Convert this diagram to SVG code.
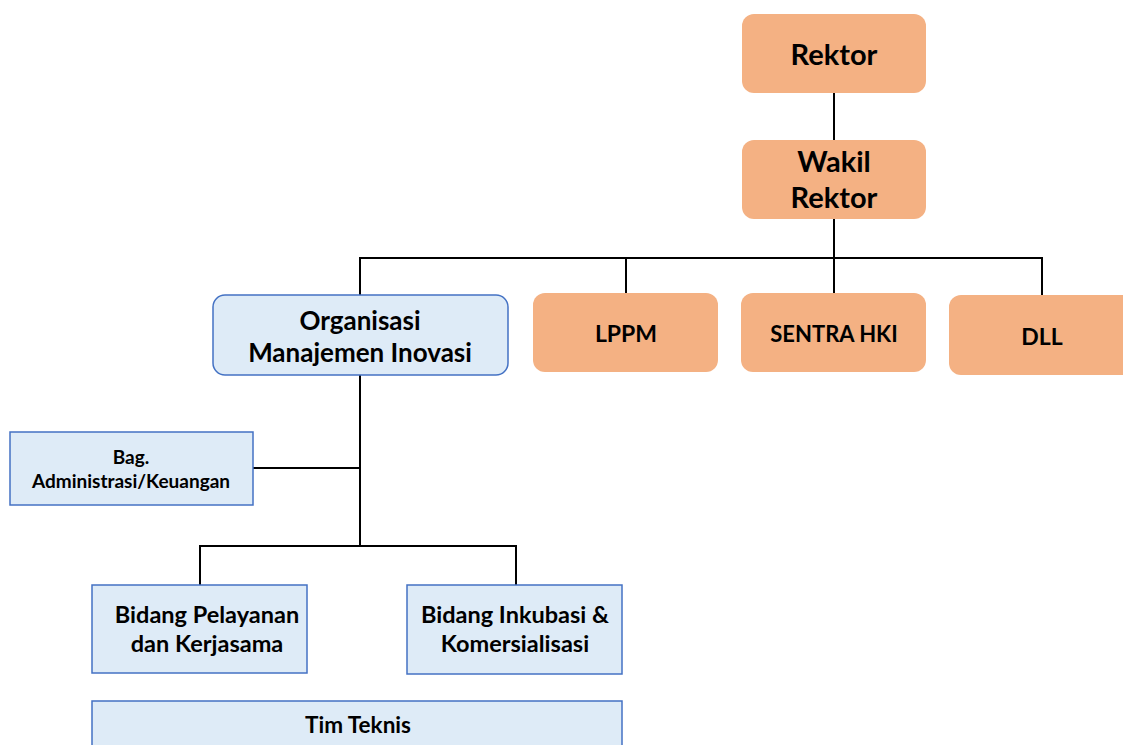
<svg xmlns="http://www.w3.org/2000/svg" width="1123" height="745" viewBox="0 0 1123 745">
<style>
  .orange { fill: #F4B183; stroke: none; }
  .blue { fill: #DEEBF7; stroke: #4472C4; stroke-width: 1.5; }
  .wire { fill: none; stroke: #000; stroke-width: 2; }
  text { font-family: Lato, "Open Sans", "Liberation Sans", sans-serif; font-weight: bold; fill: #000; text-anchor: middle; }
</style>
<rect width="1123" height="745" fill="#fff"/>
<g id="connectors">
  <path class="wire" d="M834 93 V140"/>
  <path class="wire" d="M834 219 V293"/>
  <path class="wire" d="M360 295 V258 H1042 V295"/>
  <path class="wire" d="M626 258 V293"/>
  <path class="wire" d="M360 375 V546"/>
  <path class="wire" d="M253 468 H360"/>
  <path class="wire" d="M200 585 V546 H516 V585"/>
</g>
<g id="rektor">
  <rect class="orange" x="742" y="14" width="184" height="79" rx="12"/>
  <text x="834" y="65" font-size="29">Rektor</text>
</g>
<g id="wakil-rektor">
  <rect class="orange" x="742" y="140" width="184" height="79" rx="12"/>
  <text x="834" y="172" font-size="29">Wakil</text>
  <text x="834" y="208" font-size="29">Rektor</text>
</g>
<g id="organisasi">
  <rect class="blue" x="213" y="295" width="295" height="80" rx="12"/>
  <text x="360" y="330" font-size="26">Organisasi</text>
  <text x="360" y="362" font-size="26">Manajemen Inovasi</text>
</g>
<g id="lppm">
  <rect class="orange" x="533" y="293" width="185" height="79" rx="12"/>
  <text x="626" y="342" font-size="23">LPPM</text>
</g>
<g id="sentra-hki">
  <rect class="orange" x="741" y="293" width="185" height="79" rx="12"/>
  <text x="834" y="342" font-size="22">SENTRA HKI</text>
</g>
<g id="dll">
  <rect class="orange" x="949" y="295" width="190" height="80" rx="12"/>
  <text x="1042" y="345" font-size="23">DLL</text>
</g>
<g id="administrasi">
  <rect class="blue" x="10" y="432" width="243" height="73"/>
  <text x="131" y="464" font-size="19">Bag.</text>
  <text x="131" y="488" font-size="19">Administrasi/Keuangan</text>
</g>
<g id="pelayanan">
  <rect class="blue" x="92" y="585" width="215" height="88"/>
  <text x="207" y="623" font-size="23.5">Bidang Pelayanan</text>
  <text x="207" y="652" font-size="23.5">dan Kerjasama</text>
</g>
<g id="inkubasi">
  <rect class="blue" x="407" y="585" width="215" height="89"/>
  <text x="515" y="623" font-size="23.5">Bidang Inkubasi &amp;</text>
  <text x="515" y="652" font-size="23.5">Komersialisasi</text>
</g>
<g id="tim-teknis">
  <rect class="blue" x="92" y="701" width="530" height="60"/>
  <text x="358" y="733" font-size="22.5">Tim Teknis</text>
</g>
</svg>
